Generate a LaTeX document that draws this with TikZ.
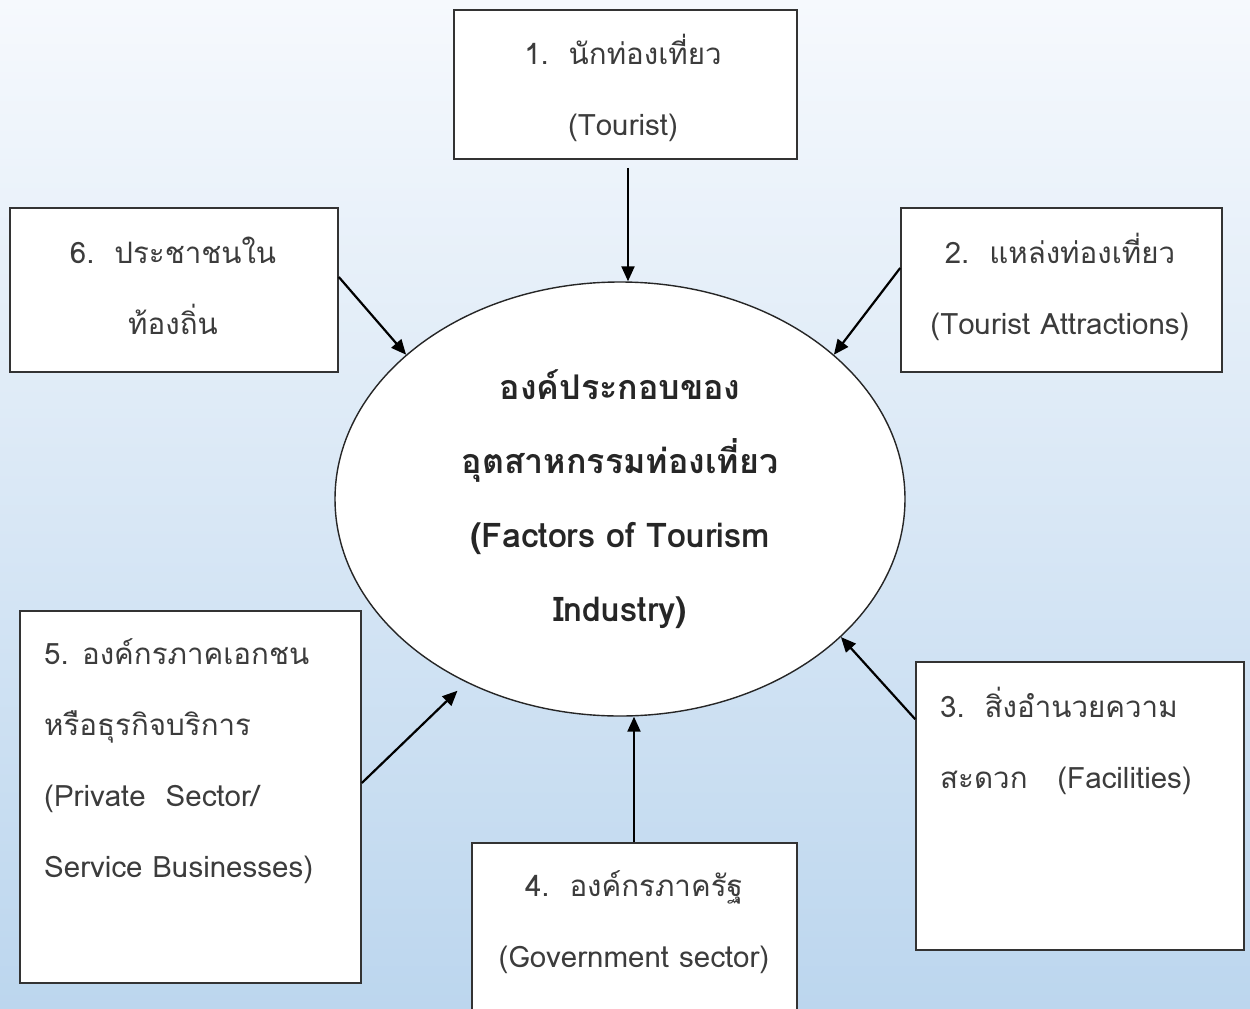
\documentclass[tikz,border=0pt]{standalone}
\usepackage{fontspec}
\setmainfont[Script=Thai]{Loma}
\usetikzlibrary{arrows.meta,shapes.geometric,calc}
\definecolor{bgtop}{RGB}{246,249,253}
\definecolor{bgbot}{RGB}{188,214,238}
\definecolor{txtc}{RGB}{60,60,60}
\begin{document}
\begin{tikzpicture}[x=1pt,y=-1pt,
  box/.style={draw=black!80, line width=1.6pt, fill=white, inner sep=0pt},
  lbl/.style={text=txtc, font=\fontsize{29.5}{71}\selectfont, inner sep=0pt},
  ctext/.style={text=black!85, font=\fontsize{34}{74}\selectfont\bfseries, align=center},
  arr/.style={-{Triangle[length=15pt,width=13pt]}, line width=2.2pt, black}]
\useasboundingbox (0,0) rectangle (1250,1009);
\clip (0,0) rectangle (1250,1009);
\shade[top color=bgtop, bottom color=bgbot] (0,0) rectangle (1250,1009);

% central ellipse
\node[ellipse, draw=black!85, line width=1.4pt, fill=white, minimum width=570pt, minimum height=434pt, inner sep=0pt, ctext] (ell) at (620,499)
  {องค์ประกอบของ\\อุตสาหกรรมท่องเที่ยว\\(Factors of Tourism\\Industry)};

% boxes
\node[box, minimum width=343pt, minimum height=149pt] (b1) at (625.5,84.5) {};
\node[box, minimum width=328pt, minimum height=164pt] (b6) at (174,290) {};
\node[box, minimum width=321pt, minimum height=164pt] (b2) at (1061.5,290) {};
\node[box, minimum width=341pt, minimum height=372pt] (b5) at (190.5,797) {};
\node[box, minimum width=325pt, minimum height=187pt] (b4) at (634.5,936.5) {};
\node[box, minimum width=328pt, minimum height=288pt] (b3) at (1080,806) {};

% texts
\node[lbl, align=center] (t1) at (623,88) {1.\ \ นักท่องเที่ยว\\(Tourist)};
\node[lbl, align=center] (t6) at (173,286) {6.\ \ ประชาชนใน\\ท้องถิ่น};
\node[lbl, align=center] (t2) at (1060,287) {2.\ \ แหล่งท่องเที่ยว\\(Tourist Attractions)};
\node[lbl, align=left, anchor=west] (t5) at (44,761) {5. องค์กรภาคเอกชน\\หรือธุรกิจบริการ\\(Private\ \ Sector/\\Service Businesses)};
\node[lbl, align=center] (t4) at (634,922) {4.\ \ องค์กรภาครัฐ\\(Government sector)};
\node[lbl, align=left, anchor=west] (t3) at (940,741) {3.\ \ สิ่งอำนวยความ\\สะดวก\ \ \ (Facilities)};

% connectors
\draw[arr] ([xshift=2.5pt,yshift=-8pt]b1.south) -- ([xshift=2.5pt]b1.south |- ell.north);
\draw[arr] ([yshift=13pt]b6.east) -- (ell.146.6);
\draw[arr] ([yshift=22pt]b2.west) -- (ell.34.1);
\draw[arr] ([yshift=-58pt]b3.north west) -- (ell.-32.4);
\draw[arr] ([xshift=-0.5pt]b4.north) -- ([xshift=-0.5pt]b4.north |- ell.south);
\draw[arr, shorten >=12pt] ([yshift=14pt]b5.east) -- (ell.230.5);
\end{tikzpicture}
\end{document}
